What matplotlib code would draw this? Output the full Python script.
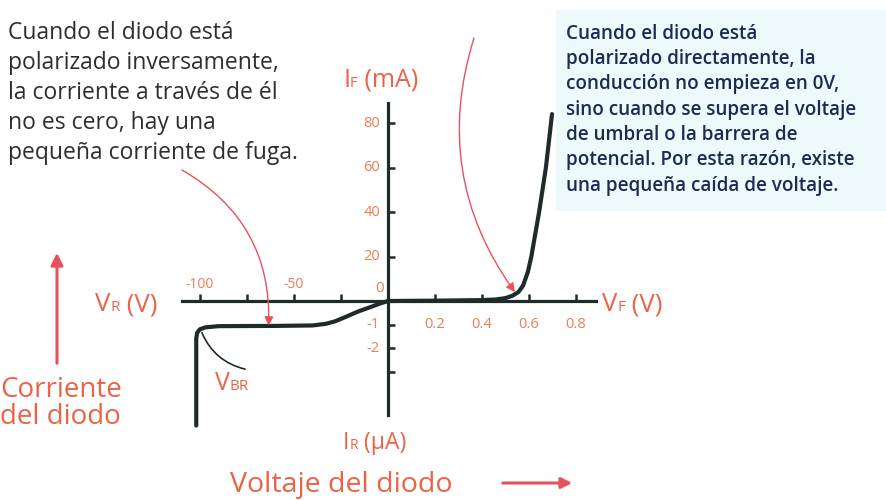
import numpy as np
import matplotlib.pyplot as plt

plt.rcParams['font.family'] = ['Open Sans', 'DejaVu Sans']

# Curva del diodo: rama inversa (V, uA) y rama directa (V, mA)
v_rev = [-102, -102, -101.5, -100, -97, -90, -60, -40, -33, -28, -22, -16, -9, -4, 0]
i_rev = [-5.3, -1.6, -1.35, -1.2, -1.12, -1.07, -1.06, -1.04, -0.97, -0.86, -0.66, -0.45, -0.25, -0.1, 0]
v_fwd = [0, 0.2, 0.4, 0.46, 0.5, 0.53, 0.555, 0.575, 0.595, 0.61, 0.643, 0.672, 0.698]
i_fwd = [0, 0.15, 0.4, 0.7, 1.3, 2.4, 4.0, 7.0, 13, 20, 40, 60, 84]

xt_neg = [-100, -75, -50, -25]
xt_neg_lab = ['-100', '', '-50', '']
xt_pos = [0.2, 0.4, 0.6, 0.8]
xt_pos_lab = ['0.2', '0.4', '0.6', '0.8']
yt_pos = [20, 40, 60, 80]
yt_neg = [-1, -2, -3]
yt_neg_lab = ['-1', '-2', '']

texto_inv = ("Cuando el diodo está\npolarizado inversamente,\nla corriente a través de él\n"
             "no es cero, hay una\npequeña corriente de fuga.")
texto_dir = ("Cuando el diodo está\npolarizado directamente, la\nconducción no empieza en 0V,\n"
             "sino cuando se supera el voltaje\nde umbral o la barrera de\n"
             "potencial. Por esta razón, existe\nuna pequeña caída de voltaje.")

W, H = 887, 500
ORANGE = '#ea7d55'
RED = '#e9505a'
LAB = '#ec6247'
INK = '#1f2a2a'


# escala por tramos: lado negativo y positivo con unidades distintas
def fx(v):
    v = np.asarray(v, dtype=float)
    return np.where(v >= 0, v / 0.2 * 47.0, v / 50.0 * 94.0)


def fx_inv(u):
    u = np.asarray(u, dtype=float)
    return np.where(u >= 0, u / 47.0 * 0.2, u / 94.0 * 50.0)


def fy(i):
    i = np.asarray(i, dtype=float)
    return np.where(i >= 0, i / 20.0 * 44.5, i * 23.5)


def fy_inv(u):
    u = np.asarray(u, dtype=float)
    return np.where(u >= 0, u / 44.5 * 20.0, u / 23.5)


fig = plt.figure(figsize=(W / 100, H / 100), dpi=100)
ax = fig.add_axes([0, 0, 1, 1])
ax.set_xscale('function', functions=(fx, fx_inv))
ax.set_yscale('function', functions=(fy, fy_inv))
ox, oy = 388, 301
ax.set_xlim(fx_inv(-ox), fx_inv(W - ox))
ax.set_ylim(fy_inv(-(H - oy)), fy_inv(oy))
ax.patch.set_alpha(0)

# fondo del recuadro de la derecha
fig.patches.append(plt.Rectangle((556 / W, 1 - 210 / H), 330 / W, 200 / H,
                                 transform=fig.transFigure, color='#eef9fb', zorder=-5))

for s in ['top', 'right']:
    ax.spines[s].set_visible(False)
ax.spines['left'].set_position(('data', 0))
ax.spines['bottom'].set_position(('data', 0))
ax.spines['left'].set_bounds(fy_inv(-114), fy_inv(198))
ax.spines['bottom'].set_bounds(fx_inv(-206), fx_inv(208))
for s in ['left', 'bottom']:
    ax.spines[s].set_linewidth(2.3)
    ax.spines[s].set_color(INK)
ax.set_xticks(xt_neg + xt_pos)
ax.set_yticks(yt_neg + yt_pos)
ax.set_xticklabels([])
ax.set_yticklabels([])
ax.tick_params(direction='in', length=5, width=1.8, color=INK)
ax.xaxis.set_minor_locator(plt.NullLocator())
ax.yaxis.set_minor_locator(plt.NullLocator())

ax.plot(v_rev, i_rev, color=INK, lw=3.0, solid_joinstyle='round', solid_capstyle='round')
ax.plot(v_fwd, i_fwd, color=INK, lw=3.0, solid_joinstyle='round', solid_capstyle='round')

# etiquetas de las marcas
for v, s in zip(xt_neg, xt_neg_lab):
    ax.annotate(s, (v, 0), xytext=(0, 9), textcoords='offset pixels', ha='center',
                va='bottom', color=ORANGE, fontsize=10)
for v, s in zip(xt_pos, xt_pos_lab):
    ax.annotate(s, (v, 0), xytext=(0, -16), textcoords='offset pixels', ha='center',
                va='top', color=ORANGE, fontsize=10.5)
for i in yt_pos:
    ax.annotate(str(i), (0, i), xytext=(-8, 0), textcoords='offset pixels', ha='right',
                va='center', color=ORANGE, fontsize=10.5)
for i, s in zip(yt_neg, yt_neg_lab):
    ax.annotate(s, (0, i), xytext=(-8, 0), textcoords='offset pixels', ha='right',
                va='center', color=ORANGE, fontsize=10.5)
ax.annotate('0', (0, 0), xytext=(-4, 5), textcoords='offset pixels', ha='right',
            va='bottom', color=ORANGE, fontsize=11)


def pf(x, y):
    return (x / W, 1 - y / H)


r = fig.canvas.get_renderer()


def chain(x, y, parts):
    for s, size, c in parts:
        t = fig.text(*pf(x, y), s, fontsize=size, color=c, va='baseline')
        x += t.get_window_extent(renderer=r).width


chain(343, 87, [('I', 18, LAB), ('F', 10.5, LAB), (' (mA)', 18, LAB)])
chain(95, 311, [('V', 18.5, LAB), ('R', 11, LAB), (' (V)', 18.5, LAB)])
chain(602, 311, [('V', 18.5, LAB), ('F', 11, LAB), (' (V)', 18.5, LAB)])
chain(215, 390, [('V', 18, LAB), ('BR', 11, LAB)])
chain(343, 449, [('I', 16.5, LAB), ('R', 10, LAB), (' (\u00b5A)', 16.5, LAB)])
fig.text(*pf(230, 492), 'Voltaje del diodo', fontsize=20.5, color=LAB, va='baseline')
fig.text(*pf(0, 397), 'Corriente', fontsize=20, color=LAB, va='baseline')
fig.text(*pf(0, 424), 'del diodo', fontsize=20, color=LAB, va='baseline')

fig.text(*pf(8, 21), texto_inv, fontsize=16.5, color='#2e2e2e', va='top', linespacing=1.33)
fig.text(*pf(566, 24), texto_dir, fontsize=13.6, color='#1c2b52', va='top',
         fontweight='semibold', linespacing=1.35)

# flechas
ax.annotate('', xy=pf(57, 250), xycoords='figure fraction', xytext=pf(57, 366),
            arrowprops=dict(arrowstyle='-|>', color=RED, lw=2.2, mutation_scale=18))
ax.annotate('', xy=pf(575, 483), xycoords='figure fraction', xytext=pf(500, 483),
            arrowprops=dict(arrowstyle='-|>', color=RED, lw=2.2, mutation_scale=16))
ax.annotate('', xy=(-63.5, -1.05), xytext=pf(182, 170), textcoords='figure fraction',
            arrowprops=dict(arrowstyle='-|>', color=RED, lw=1.0, mutation_scale=13,
                            connectionstyle='arc3,rad=-0.3', shrinkA=0, shrinkB=0))
ax.annotate('', xy=(0.54, 4.0), xytext=pf(474, 38), textcoords='figure fraction',
            arrowprops=dict(arrowstyle='-|>', color=RED, lw=1.0, mutation_scale=13,
                            connectionstyle='arc3,rad=0.25', shrinkA=0, shrinkB=0))
ax.annotate('', xy=(-99, -1.35), xytext=(-76, -2.9),
            arrowprops=dict(arrowstyle='-', color=INK, lw=1.2,
                            connectionstyle='arc3,rad=-0.25', shrinkA=0, shrinkB=0))

fig.savefig('out.png', dpi=100)
